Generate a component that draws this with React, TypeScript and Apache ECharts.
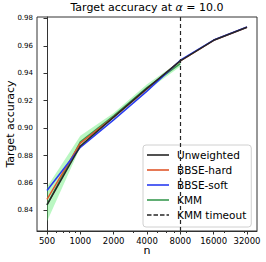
import React, { useEffect, useRef } from "react";
import * as echarts from "echarts";

const nValues = [500, 1000, 2000, 4000, 8000, 16000, 32000];
const minorN = [600, 700, 800, 900, 3000, 5000, 6000, 7000, 9000, 20000, 30000];
const unweighted = [0.844, 0.887, 0.908, 0.929, 0.949, 0.964, 0.9735];
const bbseHard = [0.848, 0.889, 0.908, 0.9285, 0.949, 0.964, 0.9735];
const bbseSoft = [0.8545, 0.886, 0.906, 0.927, 0.9495, 0.9642, 0.9737];
const kmmN = [500, 1000, 2000, 4000, 8000];
const kmm = [0.844, 0.89, 0.909, 0.9295, 0.947];
const kmmLow = [0.832, 0.886, 0.907, 0.9275, 0.945];
const kmmHigh = [0.857, 0.8945, 0.911, 0.932, 0.949];
const yTicks = [0.84, 0.86, 0.88, 0.9, 0.92, 0.94, 0.96, 0.98];
const timeoutN = 8000;

const lx = (n: number) => Math.log2(n / 500);

const solidIcon = "path://M0,0h22v1.6h-22z";
const dashedIcon = "path://M0,0h4.5v1.4h-4.5z M6.5,0h4.5v1.4h-4.5z M13,0h4.5v1.4h-4.5z M19.5,0h2.5v1.4h-2.5z";

export default function App() {
  const ref = useRef<HTMLDivElement>(null);
  useEffect(() => {
    if (!ref.current) return;
    const chart = echarts.init(ref.current, undefined, { renderer: "svg" });
    const font = "DejaVu Sans";
    const pts = (xs: number[], ys: number[]) => xs.map((n, i) => [lx(n), ys[i]]);
    const bandData = kmmN.map((n, i) => [lx(n), kmmLow[i], kmmHigh[i]]);
    chart.setOption({
      animation: false,
      textStyle: { fontFamily: font },
      title: {
        text: "Target accuracy at {i|α} = 10.0",
        left: 147,
        top: 2,
        padding: 0,
        textAlign: "center",
        textStyle: {
          fontSize: 11,
          fontWeight: "normal",
          color: "#000",
          fontFamily: font,
          rich: { i: { fontStyle: "italic", fontSize: 11, fontFamily: font, color: "#000" } },
        },
      },
      grid: { left: 37, right: 9, top: 17, bottom: 31, outerBoundsMode: "none", containLabel: false },
      xAxis: [
        {
          type: "value",
          min: -0.3,
          max: 6.3,
          name: "n",
          nameLocation: "middle",
          nameGap: 14,
          nameMoveOverlap: false,
          nameTextStyle: { fontSize: 11, color: "#000", fontFamily: font },
          axisLine: { lineStyle: { color: "#333", width: 1 } },
          axisTick: { show: true, length: 3.5, customValues: nValues.map(lx), lineStyle: { color: "#333" } },
          axisLabel: {
            customValues: nValues.map(lx),
            formatter: (v: number) => String(Math.round(500 * Math.pow(2, v))),
            fontSize: 8.5,
            color: "#000",
            margin: 5,
            fontFamily: font,
          },
          splitLine: { show: false },
        },
        {
          type: "value",
          position: "bottom",
          min: -0.3,
          max: 6.3,
          axisLine: { show: false },
          axisTick: { show: true, length: 2, customValues: minorN.map(lx), lineStyle: { color: "#333" } },
          axisLabel: { show: false },
          splitLine: { show: false },
        },
      ],
      yAxis: {
        type: "value",
        min: 0.825,
        max: 0.981,
        name: "Target accuracy",
        nameLocation: "middle",
        nameGap: 21,
        nameMoveOverlap: false,
        nameTextStyle: { fontSize: 11, color: "#000", fontFamily: font },
        axisLine: { show: true, lineStyle: { color: "#333", width: 1 } },
        axisTick: { show: true, length: 3.5, customValues: yTicks, lineStyle: { color: "#333" } },
        axisLabel: {
          customValues: yTicks,
          formatter: (v: number) => v.toFixed(2),
          fontSize: 7,
          color: "#000",
          margin: 4,
          fontFamily: font,
        },
        splitLine: { show: false },
      },
      legend: {
        data: [
          { name: "Unweighted", icon: solidIcon },
          { name: "BBSE-hard", icon: solidIcon },
          { name: "BBSE-soft", icon: solidIcon },
          { name: "KMM", icon: solidIcon },
          { name: "KMM timeout", icon: dashedIcon },
        ],
        orient: "vertical",
        left: 143,
        top: 145,
        itemWidth: 22,
        itemHeight: 1.6,
        itemGap: 1,
        padding: [3, 5, 5, 4],
        backgroundColor: "rgba(255,255,255,0.8)",
        borderColor: "#d0d0d0",
        borderWidth: 1,
        borderRadius: 3,
        textStyle: { fontSize: 10.5, color: "#000", fontFamily: font, lineHeight: 14, padding: [0, 0, 0, 3] },
      },
      series: [
        {
          name: "kmmBand",
          type: "custom",
          data: bandData,
          silent: true,
          encode: { x: 0, y: [1, 2] },
          renderItem: (params: any, api: any) => {
            if (params.dataIndex !== 0) return null;
            const upper = bandData.map((d) => api.coord([d[0], d[2]]));
            const lower = bandData.map((d) => api.coord([d[0], d[1]])).reverse();
            return {
              type: "polygon",
              shape: { points: upper.concat(lower) },
              style: { fill: "rgba(90,235,110,0.42)", stroke: "none" },
            };
          },
          z: 1,
        },
        {
          name: "KMM",
          type: "line",
          data: pts(kmmN, kmm),
          symbol: "none",
          color: "#3a9a52",
          lineStyle: { width: 1.5, color: "#3a9a52" },
          z: 2,
        },
        {
          name: "BBSE-hard",
          type: "line",
          data: pts(nValues, bbseHard),
          symbol: "none",
          color: "#e0582c",
          lineStyle: { width: 1.5, color: "#e0582c" },
          z: 3,
        },
        {
          name: "BBSE-soft",
          type: "line",
          data: pts(nValues, bbseSoft),
          symbol: "none",
          color: "#2a3cf0",
          lineStyle: { width: 1.5, color: "#2a3cf0" },
          z: 4,
        },
        {
          name: "Unweighted",
          type: "line",
          data: pts(nValues, unweighted),
          symbol: "none",
          color: "#262626",
          lineStyle: { width: 1.5, color: "#262626" },
          z: 5,
        },
        {
          name: "KMM timeout",
          type: "line",
          data: [],
          symbol: "none",
          color: "#262626",
          lineStyle: { width: 1.2, color: "#262626", type: [4, 3] },
          markLine: {
            silent: true,
            symbol: "none",
            label: { show: false },
            lineStyle: { color: "#262626", width: 1.2, type: [4, 3] },
            data: [{ xAxis: lx(timeoutN) }],
          },
          z: 6,
        },
      ],
      graphic: [
        {
          type: "rect",
          shape: { x: 37, y: 17, width: 220, height: 214 },
          style: { fill: "none", stroke: "#333", lineWidth: 1 },
          silent: true,
          z: 10,
        },
      ],
    });
    return () => chart.dispose();
  }, []);
  return <div ref={ref} style={{ position: "absolute", left: 0, top: 0, width: 266, height: 262 }} />;
}
